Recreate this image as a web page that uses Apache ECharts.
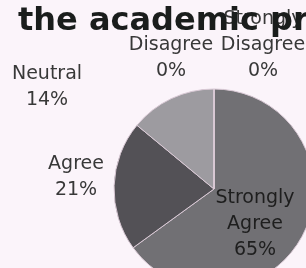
<!DOCTYPE html>
<html>
<head>
<meta charset="utf-8">
<script src="https://cdn.jsdelivr.net/npm/echarts@6/dist/echarts.min.js"></script>
<style>
html,body{margin:0;padding:0;background:#fbf4fa;}
#c{width:306px;height:268px;}
</style>
</head>
<body>
<div id="c"></div>
<script>
// data
var categories = ['Strongly Agree', 'Agree', 'Neutral', 'Disagree', 'Strongly Disagree'];
var percents = [65, 21, 14, 0, 0];
var sliceColors = ['#717074', '#535156', '#9d9ba0', '#8a8a8a', '#6a6a6a'];
var titleText = 'the academic pr';

// label placement (pixel centers), kept separate from data
var labelPos = [[255, 224], [76, 177], [47, 87], [171, 58], [263, 45]];

var chart = echarts.init(document.getElementById('c'), null, {renderer: 'canvas'});
var pieData = categories.map(function (c, i) {
  return {
    name: c, value: percents[i],
    itemStyle: {color: sliceColors[i]},
    label: {color: i === 0 ? '#1e1e1e' : '#383838'}
  };
});
chart.setOption({
  backgroundColor: '#fbf4fa',
  animation: false,
  title: {
    text: titleText,
    left: 13, top: 1,
    z: 10,
    textStyle: {fontFamily: 'DejaVu Sans', fontWeight: 'bold', fontSize: 32, color: '#1a1d1c'}
  },
  series: [{
    type: 'pie',
    center: [214, 189],
    radius: 100,
    startAngle: 90,
    clockwise: true,
    avoidLabelOverlap: false,
    itemStyle: {borderColor: '#d9c9d5', borderWidth: 1},
    label: {
      show: true,
      position: 'outside',
      fontFamily: 'DejaVu Sans',
      fontSize: 19,
      lineHeight: 26,
      formatter: function (p) {
        return p.name.replace(' ', '\n') + '\n' + p.value + '%';
      }
    },
    labelLine: {show: false},
    labelLayout: function (p) {
      var pos = labelPos[p.dataIndex];
      return {x: pos[0], y: pos[1], align: 'center', verticalAlign: 'middle'};
    },
    data: pieData
  }]
});
</script>
</body>
</html>
